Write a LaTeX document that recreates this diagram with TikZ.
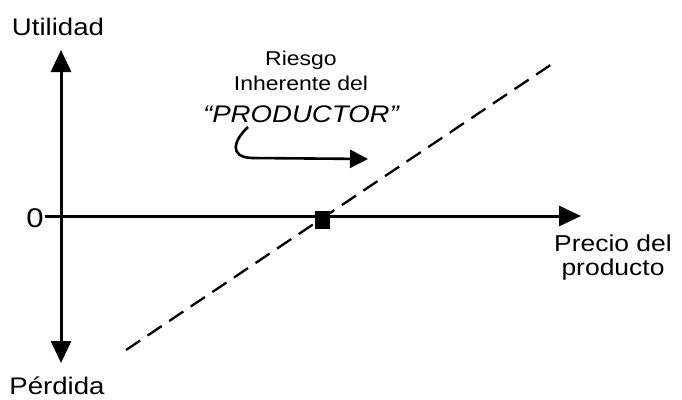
\documentclass[tikz,border=0pt]{standalone}
\usepackage{fontspec}
\setmainfont{Liberation Sans}[FakeStretch=1.15]
\usetikzlibrary{arrows.meta}
\tikzset{
  axis/.style={line width=3pt,-{Triangle[length=22pt,width=20pt]}},
  lbl/.style={inner sep=0pt,font=\fontsize{24}{28}\selectfont},
  ann/.style={inner sep=0pt,font=\fontsize{20}{23}\selectfont},
  dline/.style={line width=2.3pt,dash pattern=on 17pt off 9pt},
  curvearrow/.style={line width=2.6pt,-{Triangle[length=18pt,width=18pt]}},
}
\begin{document}
\begin{tikzpicture}[x=1pt,y=-1pt]
\useasboundingbox (0,0) rectangle (682,399);
% axes coordinates
\coordinate (vc) at (61,216);
\coordinate (vtop) at (61,50);
\coordinate (vbot) at (61,363);
\coordinate (hl) at (45,216);
\coordinate (hr) at (581,216);
\draw[axis] (vc) -- (vtop);
\draw[axis] (vc) -- (vbot);
\draw[line width=3pt] (hl) -- (vc);
\draw[axis] (vc) -- (hr);
% labels
\node[lbl,anchor=base] (util) at (58,35) {Utilidad};
\node[lbl,anchor=base] (perd) at (57,394) {Pérdida};
\node[inner sep=0pt,font=\fontsize{27}{30}\selectfont] (zero) at (35,218) {0};
\node[inner sep=0pt,anchor=base,align=center,font=\fontsize{23}{24}\selectfont] (precio) at (613,275) {Precio del\\producto};
% dashed line
\coordinate (d1) at (126,350);
\coordinate (d2) at (552,64);
\draw[dline] (d1) -- (d2);
% square
\node[draw,fill=black,minimum width=14pt,minimum height=17pt,inner sep=0pt] (sq) at (322,220) {};
% annotation
\node[ann,anchor=base] (r1) at (301,65) {Riesgo};
\node[ann,anchor=base] (r2) at (301,90) {Inherente del};
\node[inner sep=0pt,anchor=base,font=\fontsize{24}{28}\selectfont\itshape] (r3) at (301,122) {“PRODUCTOR”};
\coordinate (cs) at (248,127);
\coordinate (ce) at (368,159);
\draw[curvearrow] (cs) .. controls (234,140) and (228,157) .. (252,158) -- (ce);
\end{tikzpicture}
\end{document}
